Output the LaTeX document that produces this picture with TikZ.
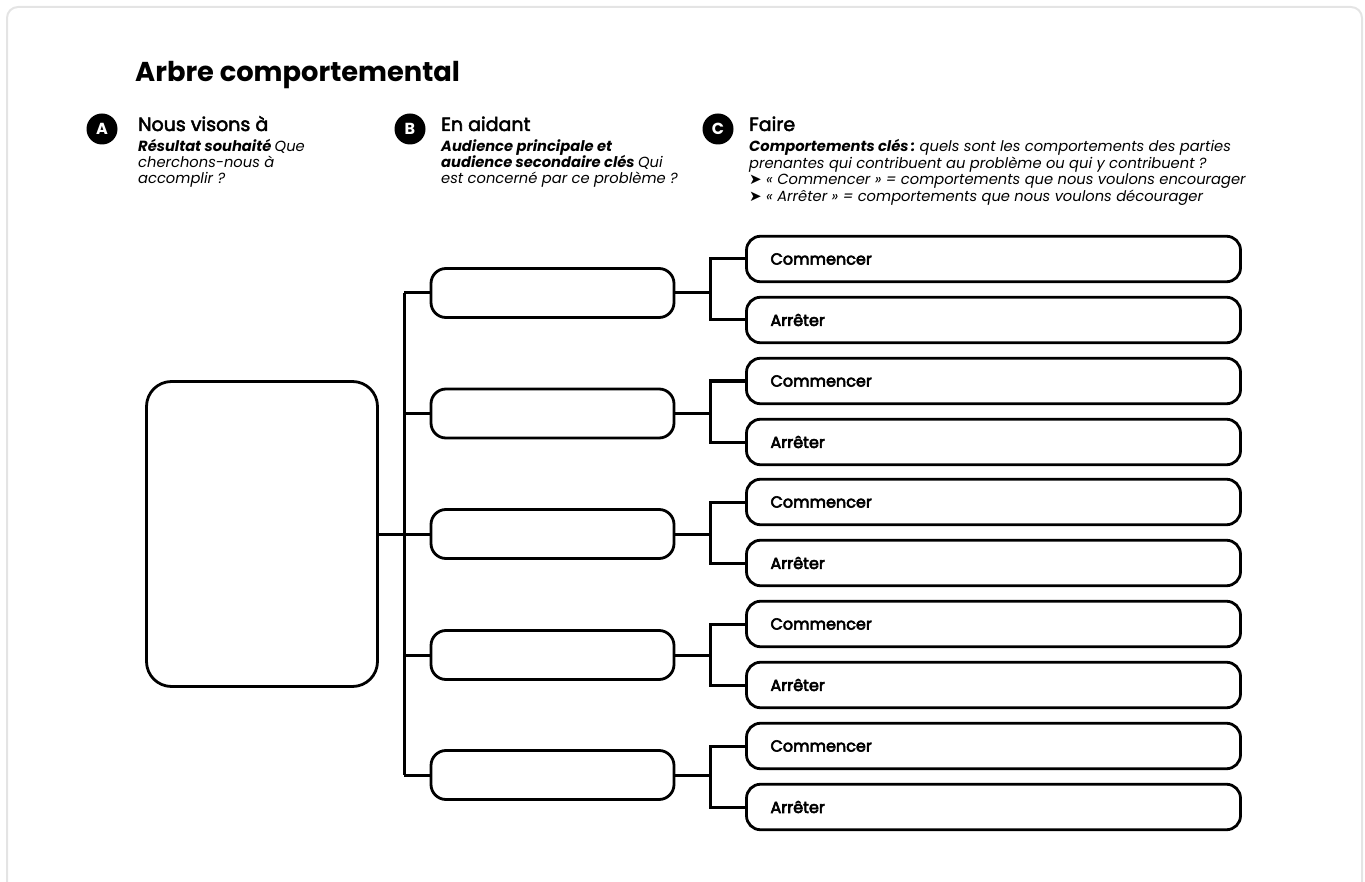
\documentclass[tikz,border=0pt]{standalone}
\usepackage{fontspec}
\setmainfont{Poppins}
\newfontfamily\symf{DejaVu Sans}
\definecolor{framegray}{HTML}{E4E4E4}
\newcommand{\arrowmark}{{\symf\fontsize{15}{17}\selectfont\char"27A4}}
\newcommand{\fakeb}[2]{\special{pdf:literal direct 2 Tr #1 w}#2\special{pdf:literal direct 0 Tr}}
\begin{document}
\begin{tikzpicture}[x=1pt,y=-1pt,
  frame/.style={draw=framegray, line width=2pt, rounded corners=11pt},
  bigbox/.style={draw, line width=2.8pt, rounded corners=25pt, minimum width=231pt, minimum height=305pt, inner sep=0pt},
  midbox/.style={draw, line width=2.8pt, rounded corners=15pt, minimum width=243pt, minimum height=49pt, inner sep=0pt},
  rbox/.style={draw, line width=2.8pt, rounded corners=14pt, minimum height=45.5pt, text width=446pt, inner xsep=24pt, inner ysep=0pt, align=left, font=\fontsize{16}{18}\selectfont},
  conn/.style={line width=3pt},
  badge/.style={circle, fill=black, minimum size=31pt, inner sep=0pt, text=white, font=\bfseries\fontsize{16}{18}\selectfont},
  head/.style={anchor=base west, inner sep=0pt, font=\fontsize{19}{22}\selectfont},
  sub/.style={anchor=base west, inner sep=0pt, font=\itshape\fontsize{14.7}{17}\selectfont},
  title/.style={anchor=base west, inner sep=0pt, font=\bfseries\fontsize{27.3}{32}\selectfont}
]
\useasboundingbox (0,0) rectangle (1365,882);
\draw[frame] (7,900) -- (7,7) -- (1362,7) -- (1362,900);

\node[title] (title) at (135,82) {Arbre comportemental};

% Column A
\node[badge] (ba) at (102,129) {A};
\node[head] (ha) at (138,131) {\fakeb{0.5}{Nous visons à}};
\node[sub] (a1) at (138,152) {\bfseries Résultat souhaité \mdseries Que};
\node[sub] (a2) at (138,168) {cherchons-nous à};
\node[sub] (a3) at (138,184) {accomplir ?};

% Column B
\node[badge] (bb) at (410,129) {B};
\node[head] (hb) at (441,131) {\fakeb{0.5}{En aidant}};
\node[sub] (b1) at (441,152) {\bfseries Audience principale et};
\node[sub] (b2) at (441,168) {\bfseries audience secondaire clés \mdseries Qui};
\node[sub] (b3) at (441,184) {est concerné par ce problème ?};

% Column C
\node[badge] (bc) at (718,129) {C};
\node[head] (hc) at (749,131) {\fakeb{0.5}{Faire}};
\node[sub] (c1t) at (749,152) {\bfseries Comportements clés\,: \mdseries quels sont les comportements des parties};
\node[sub] (c2t) at (749,168.5) {prenantes qui contribuent au problème ou qui y contribuent ?};
\node[sub] (c3t) at (749,185) {\arrowmark\ « Commencer » = comportements que nous voulons encourager};
\node[sub] (c4t) at (749,201.5) {\arrowmark\ « Arrêter » = comportements que nous voulons décourager};

% Tree
\node[bigbox] (big) at (262,534) {};
\coordinate (trunktop) at (404,293);
\coordinate (trunkbot) at (404,775);
\draw[conn] (trunktop) -- (trunkbot);
\draw[conn] (big.east) -- (big.east -| trunktop);

\foreach \i/\m/\c in {1/293/259, 2/413.5/381, 3/534/502, 4/655/624, 5/775/746}{
  \node[midbox] (m\i) at (552.5,\m) {};
  \node[rbox] (s\i) at (993.5,\c) {\fakeb{0.6}{Commencer}};
  \node[rbox] (r\i) at (993.5,\c+61) {\fakeb{0.6}{Arrêter}};
  \coordinate (k\i) at (710,\m);
  \draw[conn] (m\i.west -| trunktop) -- (m\i.west);
  \draw[conn] (m\i.east) -- (k\i);
  \draw[conn] (s\i.west) -- (s\i.west -| k\i) -- (r\i.west -| k\i) -- (r\i.west);
}
\end{tikzpicture}
\end{document}
